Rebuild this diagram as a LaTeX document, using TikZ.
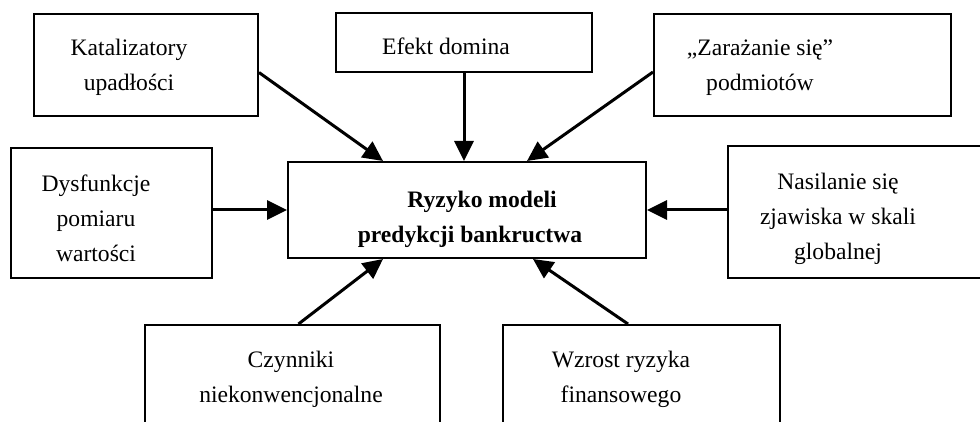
\documentclass[tikz,border=0pt]{standalone}
\usepackage{fontspec}
\setmainfont{Liberation Serif}
\usetikzlibrary{arrows.meta}

\begin{document}
\begin{tikzpicture}[x=0.5pt,y=-0.5pt,  % pixel grid, y runs downwards
    box/.style={
      rectangle,draw,
      line width=1pt,
      inner sep=0pt
    },
    txt/.style={
      align=center,
      inner sep=0pt,
      font=\fontsize{11.8}{17.5}\selectfont
    },
    arr/.style={
      line width=1.5pt,
      -{Triangle[length=10pt,width=9.5pt]}
    }
  ]

    % page frame (the lower and right boxes run off it)
    \useasboundingbox (0,0) rectangle (980,422);
    \clip (0,0) rectangle (980,422);

    % Central box
    \node[box,minimum width=179pt,minimum height=48pt] (cen) at (467,210) {};
    \node[txt,font=\fontsize{11.8}{17.5}\selectfont\bfseries] (cen-t) at (470,219)
      {\hspace*{12pt}Ryzyko modeli\\predykcji bankructwa};

    % Top row
    \node[box,minimum width=112pt,minimum height=51pt] (kat) at (146,65) {};
    \node[txt] (kat-t) at (129,67) {Katalizatory\\upadłości};

    \node[box,minimum width=128pt,minimum height=29.5pt] (efe) at (464,42.5) {};
    \node[txt] (efe-t) at (446,46) {Efekt domina};

    \node[box,minimum width=148.5pt,minimum height=51pt] (zar) at (802.5,65) {};
    \node[txt] (zar-t) at (760,68) {„Zarażanie się”\\podmiotów};

    % Middle row
    \node[box,minimum width=100.5pt,minimum height=65pt] (dys) at (111.5,213) {};
    \node[txt] (dys-t) at (96,218) {Dysfunkcje\\pomiaru\\wartości};

    \node[box,minimum width=136pt,minimum height=66pt] (nas) at (864,212) {};
    \node[txt] (nas-t) at (838,219) {Nasilanie się\\zjawiska w skali\\globalnej};

    % Bottom row
    \node[box,minimum width=147.5pt,minimum height=60pt] (czy) at (292.5,385) {};
    \node[txt] (czy-t) at (291,379) {Czynniki\\niekonwencjonalne};

    \node[box,minimum width=138.5pt,minimum height=60pt] (wzr) at (641.5,385) {};
    \node[txt] (wzr-t) at (621,379) {Wzrost ryzyka\\finansowego};

    % Arrows into the central box
    \draw[arr] ([yshift=-3.75pt]kat.east) -- ([xshift=-42pt]cen.north);
    \draw[arr] (efe.south) -- (efe.south |- cen.north);
    \draw[arr] ([yshift=-3.5pt]zar.west) -- ([xshift=30pt]cen.north);
    \draw[arr] (dys.east |- cen.west) -- (cen.west);
    \draw[arr] (nas.west |- cen.east) -- (cen.east);
    \draw[arr] ([xshift=3pt]czy.north) -- ([xshift=-42pt]cen.south);
    \draw[arr] ([xshift=-6.75pt]wzr.north) -- ([xshift=33pt]cen.south);

  \end{tikzpicture}
\end{document}
